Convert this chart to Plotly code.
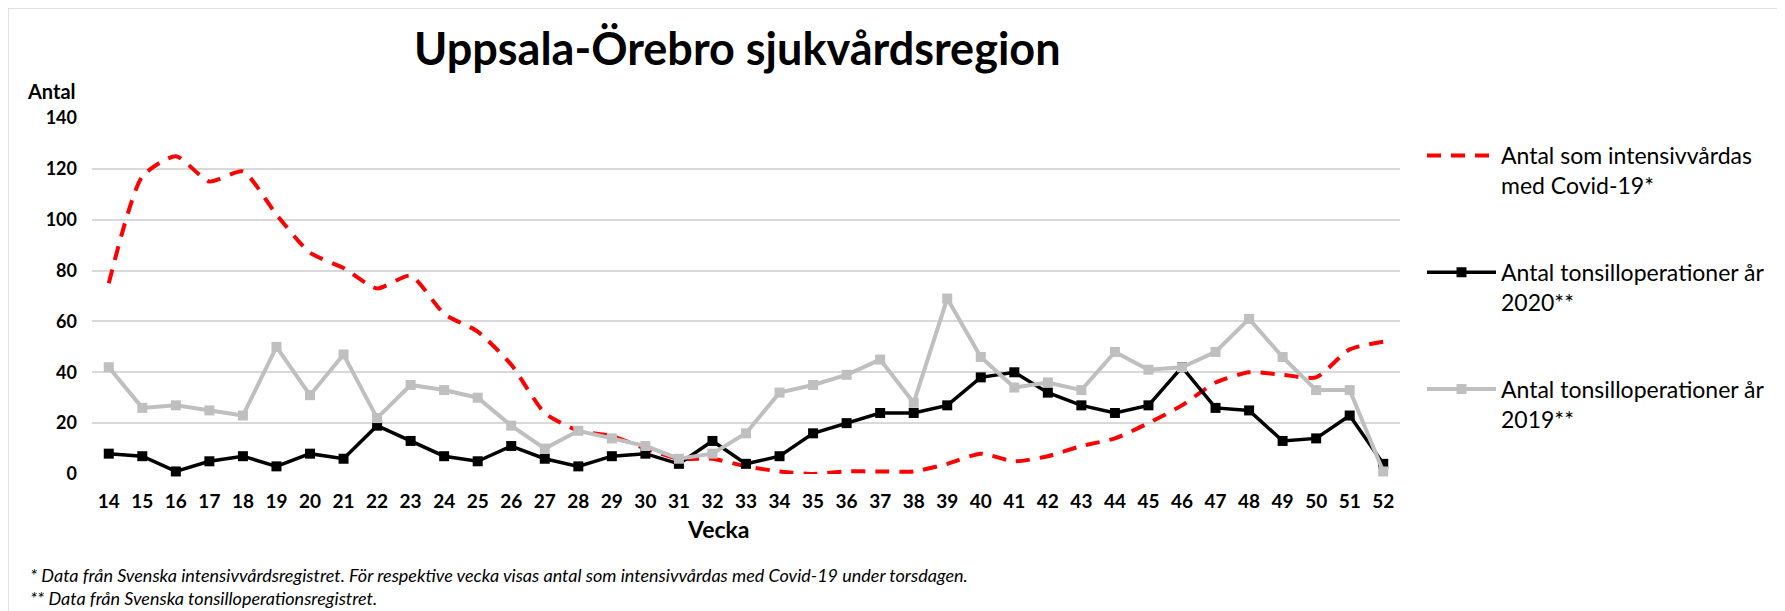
import plotly.graph_objects as go

# ---- data ----
weeks = [str(w) for w in range(14, 53)]
covid_icu = [75, 117, 125, 115, 119, 102, 87, 81, 73, 78, 63, 56, 43, 24, 17, 15, 10, 6, 6, 3,
             1, 0, 1, 1, 1, 4, 8, 5, 7, 11, 14, 20, 27, 36, 40, 39, 38, 49, 52]
tonsil_2020 = [8, 7, 1, 5, 7, 3, 8, 6, 19, 13, 7, 5, 11, 6, 3, 7, 8, 4, 13, 4,
               7, 16, 20, 24, 24, 27, 38, 40, 32, 27, 24, 27, 42, 26, 25, 13, 14, 23, 4]
tonsil_2019 = [42, 26, 27, 25, 23, 50, 31, 47, 22, 35, 33, 30, 19, 10, 17, 14, 11, 6, 8, 16,
               32, 35, 39, 45, 28, 69, 46, 34, 36, 33, 48, 41, 42, 48, 61, 46, 33, 33, 1]
y_ticks = [0, 20, 40, 60, 80, 100, 120, 140]

names = ["Antal som intensivvårdas<br>med Covid-19*",
         "Antal tonsilloperationer år<br>2020**",
         "Antal tonsilloperationer år<br>2019**"]

# ---- layout geometry (page pixels; page body has an 8px margin) ----
OFF = 8
W_PX, H_PX = 1785 - OFF, 611 - OFF
L, R = 92 - OFF, 1400 - OFF
T, B = 118 - OFF, 474 - OFF
PW, PH = R - L, B - T

def fx(px):
    return (px - OFF - L) / PW

def fy(py):
    return (B - (py - OFF)) / PH

FONT = "Lato"

fig = go.Figure()
fig.add_trace(go.Scatter(
    x=weeks, y=covid_icu, name=names[0], mode="lines",
    line=dict(color="#FF0000", width=4, dash="14px,10px", shape="spline", smoothing=0.6),
    legendgroup="a", cliponaxis=False))
fig.add_trace(go.Scatter(
    x=weeks, y=tonsil_2020, name=names[1], mode="lines+markers",
    line=dict(color="#000000", width=3.5),
    marker=dict(symbol="square", size=10, color="#000000"),
    legendgroup="b", cliponaxis=False))
fig.add_trace(go.Scatter(
    x=weeks, y=tonsil_2019, name=names[2], mode="lines+markers",
    line=dict(color="#BFBFBF", width=4),
    marker=dict(symbol="square", size=10, color="#BFBFBF"),
    legendgroup="c", cliponaxis=False))

annotations = [
    dict(text="<b>Uppsala-Örebro sjukvårdsregion</b>", x=fx(737), y=fy(48),
         font=dict(size=45, color="#000000", family=FONT)),
    dict(text="<b>Antal</b>", x=fx(25), y=fy(91), xanchor="left",
         font=dict(size=20, color="#000000", family=FONT)),
    dict(text="<b>Vecka</b>", x=fx(718), y=fy(529),
         font=dict(size=23, color="#000000", family=FONT)),
    dict(text="<i>* Data från Svenska intensivvårdsregistret. För respektive vecka visas antal som intensivvårdas med Covid-19 under torsdagen.</i>",
         x=fx(28), y=fy(575), xanchor="left",
         font=dict(size=18, color="#000000", family=FONT)),
    dict(text="<i>** Data från Svenska tonsilloperationsregistret.</i>",
         x=fx(28), y=fy(598), xanchor="left",
         font=dict(size=18, color="#000000", family=FONT)),
]
for a in annotations:
    a.update(xref="paper", yref="paper", showarrow=False)
    a.setdefault("xanchor", "center")
    a.setdefault("yanchor", "middle")

shapes = [
    dict(type="line", xref="paper", yref="paper", x0=fx(8), x1=fx(1790), y0=fy(8), y1=fy(8),
         line=dict(color="#D9D9D9", width=1.5)),
    dict(type="line", xref="paper", yref="paper", x0=fx(8), x1=fx(8), y0=fy(8), y1=fy(615),
         line=dict(color="#D9D9D9", width=1.5)),
]

fig.update_layout(
    width=W_PX, height=H_PX,
    margin=dict(l=L, r=W_PX - R, t=T, b=H_PX - B, pad=0),
    paper_bgcolor="white", plot_bgcolor="white",
    font=dict(family=FONT, color="#000000"),
    showlegend=True,
    legend=dict(x=fx(1422), y=fy(134), xanchor="left", yanchor="top",
                font=dict(size=23, family=FONT, color="#000000"),
                tracegroupgap=54, valign="top", itemwidth=69,
                bgcolor="rgba(0,0,0,0)"),
    annotations=annotations,
    shapes=shapes,
)
fig.update_xaxes(type="category", range=[-0.5, len(weeks) - 0.5], showgrid=False,
                 showline=False, zeroline=False, ticks="",
                 ticklabelstandoff=14,
                 tickfont=dict(size=19, family=FONT, color="#000000", weight="bold"))
fig.update_yaxes(range=[0, 140], tickvals=y_ticks, showgrid=True, gridcolor="#D9D9D9",
                 gridwidth=1.5, zeroline=False, showline=False, ticks="",
                 ticklabelstandoff=14,
                 tickfont=dict(size=18, family=FONT, color="#000000", weight="bold"))

fig.write_html("out.html")
